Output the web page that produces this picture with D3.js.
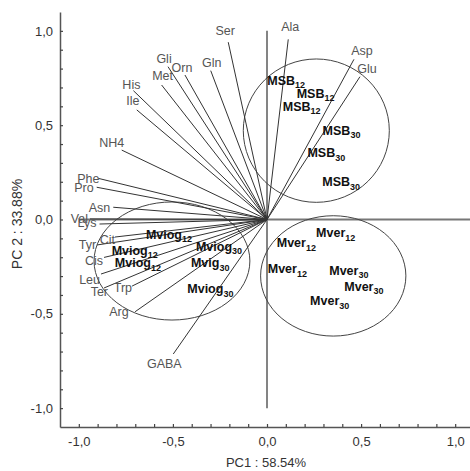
<!DOCTYPE html>
<html><head><meta charset="utf-8">
<script src="https://cdn.jsdelivr.net/npm/d3@7"></script>
<style>body{margin:0;background:#fff}svg{display:block}</style>
</head><body><svg id="c" width="470" height="471"></svg>
<script>
// ---- data ----
const vectorNames = ["Ser","Ala","Asp","Glu","Gln","Orn","Gli","Met","His","Ile","NH4","Phe","Pro","Asn","Val","Lys","Cit","Tyr","Cis","Leu","Ter","Trp","Arg","GABA"];
const vectorPC1 = [-0.206,0.113,0.462,0.494,-0.299,-0.436,-0.526,-0.560,-0.710,-0.692,-0.772,-0.896,-0.905,-0.817,-0.941,-0.890,-0.808,-0.903,-0.866,-0.882,-0.866,-0.717,-0.701,-0.498];
const vectorPC2 = [0.940,0.955,0.849,0.757,0.789,0.766,0.810,0.713,0.683,0.581,0.368,0.218,0.171,0.065,0.003,-0.024,-0.093,-0.135,-0.201,-0.289,-0.363,-0.353,-0.489,-0.713];

const scoreNames = ["MSB","MSB","MSB","MSB","MSB","MSB","Mver","Mver","Mver","Mver","Mver","Mver","Mviog","Mviog","Mviog","Mviog","Mvig","Mviog"];
const scoreSubs  = ["12","12","12","30","30","30","12","12","12","30","30","30","12","12","12","30","30","30"];
const scorePC1 = [0.102,0.258,0.184,0.396,0.315,0.394,0.365,0.156,0.108,0.435,0.515,0.333,-0.521,-0.703,-0.686,-0.255,-0.302,-0.301];
const scorePC2 = [0.737,0.670,0.601,0.472,0.355,0.201,-0.069,-0.122,-0.262,-0.268,-0.355,-0.432,-0.077,-0.162,-0.228,-0.141,-0.228,-0.366];

const groupNames = ["MSB","Mver","Mviog"];
const groupCX = [0.262,0.352,-0.505];
const groupCY = [0.471,-0.299,-0.220];
const groupRX = [0.388,0.386,0.414];
const groupRY = [0.380,0.319,0.313];

const tickValues = d3.range(-10, 11).map(d => d / 10);
const majorTicks = [-1.0,-0.5,0.0,0.5,1.0];
const xTitle = "PC1 : 58.54%";
const yTitle = "PC 2 : 33.88%";

// ---- layout (label placement relative to vector ends, px) ----
const vecLabelLayout = {
  Ser:["middle",-3,-7], Ala:["middle",2,-8], Asp:["middle",8,-4.5], Glu:["middle",7,-3.5],
  Gln:["middle",1,-4], Orn:["middle",-3,-3.3], Gli:["middle",-4,-3.4], Met:["middle",1,-5],
  His:["middle",-2,-1.4], Ile:["middle",-4,-5], NH4:["middle",-10,-3.3],
  Phe:["end",1,5], Pro:["end",-3,4.4], Asn:["end",-3,4.4], Val:["end",-2,3.7], Lys:["end",-3,3.3],
  Cit:["end",0,7], Tyr:["end",-1,4.3], Cis:["end",-1,7.5], Leu:["end",-1,9.5], Ter:["end",4,8],
  Trp:["end",0,6], Arg:["end",-6.5,4.5], GABA:["middle",-9,14]
};

const FONT = "'Liberation Sans', Arial, sans-serif";
const svg = d3.select("#c");
const x = d3.scaleLinear().domain([-1.1, 1.1]).range([60, 474]);
const y = d3.scaleLinear().domain([-1.1, 1.1]).range([427, 12]);

// axes
const fmt = d => majorTicks.some(m => Math.abs(m - d) < 1e-9) ? d3.format(".1f")(d).replace(".", ",").replace("−","-") : "";
const gx = svg.append("g").attr("transform", `translate(0,${y(-1.1)})`)
  .call(d3.axisBottom(x).tickValues(tickValues).tickFormat(fmt).tickSizeInner(-3).tickSizeOuter(0).tickPadding(10));
const gy = svg.append("g").attr("transform", `translate(${x(-1.1)},0)`)
  .call(d3.axisLeft(y).tickValues(tickValues).tickFormat(fmt).tickSizeInner(-3).tickSizeOuter(0).tickPadding(7));
[gx, gy].forEach(g => {
  g.select(".domain").attr("stroke", "#555").attr("stroke-width", 1.5);
  g.selectAll(".tick line").attr("stroke", "#444").attr("stroke-width", 1.2);
  g.selectAll(".tick text").attr("fill", "#333").style("font-family", FONT).style("font-size", "13px");
});

// zero lines
svg.append("line").attr("x1", x(0)).attr("x2", x(0)).attr("y1", y(-1)).attr("y2", y(1))
  .attr("stroke", "#777").attr("stroke-width", 1.8);
svg.append("line").attr("x1", x(-1)).attr("x2", x(1.1)).attr("y1", y(0)).attr("y2", y(0))
  .attr("stroke", "#777").attr("stroke-width", 1.8);

// group ellipses
svg.append("g").selectAll("ellipse").data(groupNames).join("ellipse")
  .attr("cx", (d, i) => x(groupCX[i])).attr("cy", (d, i) => y(groupCY[i]))
  .attr("rx", (d, i) => x(groupRX[i]) - x(0)).attr("ry", (d, i) => y(0) - y(groupRY[i]))
  .attr("fill", "none").attr("stroke", "#444").attr("stroke-width", 1);

// loading vectors
svg.append("g").selectAll("line").data(vectorNames).join("line")
  .attr("x1", x(0)).attr("y1", y(0))
  .attr("x2", (d, i) => x(vectorPC1[i])).attr("y2", (d, i) => y(vectorPC2[i]))
  .attr("stroke", "#333").attr("stroke-width", 1);

svg.append("g").selectAll("text").data(vectorNames).join("text")
  .attr("x", (d, i) => x(vectorPC1[i]) + vecLabelLayout[d][1])
  .attr("y", (d, i) => y(vectorPC2[i]) + vecLabelLayout[d][2])
  .attr("text-anchor", d => vecLabelLayout[d][0])
  .attr("fill", "#555").style("font-family", FONT).style("font-size", "12.5px")
  .text(d => d);

// score labels (label centred on the score)
const st = svg.append("g").selectAll("text").data(scoreNames).join("text")
  .attr("x", (d, i) => x(scorePC1[i])).attr("y", (d, i) => y(scorePC2[i]) + 4.5)
  .attr("text-anchor", "middle").attr("fill", "#111")
  .style("font-family", FONT).style("font-size", "12.5px").style("font-weight", "bold");
st.append("tspan").text(d => d);
st.append("tspan").attr("dy", 3.5).style("font-size", "9px").text((d, i) => scoreSubs[i]);

// axis titles
svg.append("text").attr("x", 266).attr("y", 467).attr("text-anchor", "middle")
  .attr("fill", "#333").style("font-family", FONT).style("font-size", "13px").text(xTitle);
svg.append("text").attr("transform", "translate(22,224) rotate(-90)").attr("text-anchor", "middle")
  .attr("fill", "#333").style("font-family", FONT).style("font-size", "14px").text(yTitle);
</script>
</body></html>
